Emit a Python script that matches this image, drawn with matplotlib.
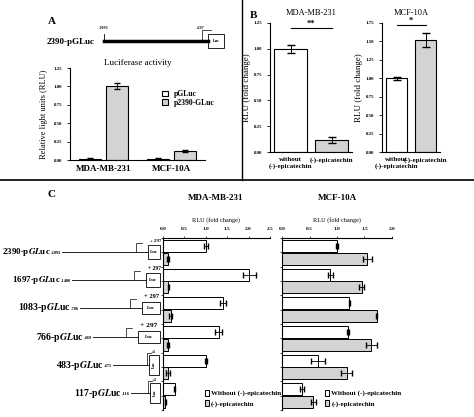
import numpy as np
import matplotlib
matplotlib.use("Agg")
import matplotlib.pyplot as plt
from matplotlib.patches import Rectangle

plt.rcParams["font.family"] = ["Liberation Serif", "DejaVu Serif"]
plt.rcParams["font.weight"] = "bold"
plt.rcParams["mathtext.fontset"] = "stix"

W, H = 474, 417

# panel A
a_cells = ["MDA-MB-231", "MCF-10A"]
a_pgluc = [0.02, 0.02]
a_pgluc_err = [0.005, 0.005]
a_p2390 = [1.0, 0.12]
a_p2390_err = [0.04, 0.01]

# panel B
b_labels = ["without\n(-)-epicatechin", "(-)-epicatechin"]
b_mda = [1.0, 0.12]
b_mda_err = [0.04, 0.03]
b_mcf = [1.0, 1.52]
b_mcf_err = [0.02, 0.1]

# panel C
c_constructs = ["2390", "1697", "1083", "766", "483", "117"]
c_start = ["-2093", "-1400", "-786", "-469", "-475", "-116"]
c_mda_without = [1.0, 2.02, 1.4, 1.3, 1.0, 0.27]
c_mda_without_err = [0.05, 0.15, 0.07, 0.08, 0.02, 0.02]
c_mda_with = [0.12, 0.12, 0.18, 0.12, 0.12, 0.05]
c_mda_with_err = [0.02, 0.01, 0.04, 0.02, 0.04, 0.01]
c_mcf_without = [1.0, 0.88, 1.22, 1.2, 0.65, 0.36]
c_mcf_without_err = [0.02, 0.05, 0.01, 0.01, 0.13, 0.04]
c_mcf_with = [1.55, 1.45, 1.72, 1.62, 1.18, 0.57]
c_mcf_with_err = [0.08, 0.05, 0.01, 0.1, 0.1, 0.05]

GREY = "#d3d3d3"
fig = plt.figure(figsize=(W / 100, H / 100), dpi=100)


def px_axes(x0, y0, x1, y1):
    return fig.add_axes([x0 / W, 1 - y1 / H, (x1 - x0) / W, (y1 - y0) / H])


def style(ax):
    for s in ["top", "right"]:
        ax.spines[s].set_visible(False)
    ax.tick_params(labelsize=3.5, length=2, width=0.6)


# overlay for text & diagrams (pixel coords)
ov = fig.add_axes([0, 0, 1, 1])
ov.set_xlim(0, W)
ov.set_ylim(H, 0)
ov.axis("off")
ov.plot([0, W], [180, 180], color="k", lw=1.2)
ov.plot([242, 242], [0, 180], color="k", lw=1)

# ---- A ----
ov.text(48, 24, "A", fontsize=8)
ov.text(47, 42, "2390-pGLuc", fontsize=6.5, va="center")
ov.plot([104, 208], [41, 41], color="k", lw=2.5)
ov.plot([104, 104], [34, 41], color="k", lw=0.6)
ov.add_patch(Rectangle((208, 34), 16, 14, fill=False, lw=0.6))
ov.text(216, 41, "Luc", fontsize=3, ha="center", va="center")
ov.plot([202, 202, 211], [41, 30, 30], color="k", lw=0.5)
ov.text(104, 29, "-2093", fontsize=3, ha="center")
ov.text(200, 29, "+297", fontsize=3, ha="center")

ax = px_axes(70, 68, 205, 160)
style(ax)
x = np.array([0, 1])
ax.bar(x - 0.2, a_pgluc, 0.32, yerr=a_pgluc_err, color="white", edgecolor="k", lw=0.8, capsize=2, error_kw=dict(lw=0.6))
ax.bar(x + 0.2, a_p2390, 0.32, yerr=a_p2390_err, color=GREY, edgecolor="k", lw=0.8, capsize=2, error_kw=dict(lw=0.6))
ax.set_ylim(0, 1.25)
ax.set_yticks([0, 0.25, 0.5, 0.75, 1.0, 1.25])
ax.set_yticklabels(["0.00", "0.25", "0.50", "0.75", "1.00", "1.25"])
ax.set_xticks(x)
ax.set_xticklabels(a_cells, fontsize=6.5)
ax.tick_params(axis="x", length=0)
ax.set_xlim(-0.5, 1.5)
ax.set_ylabel("Relative light units (RLU)", fontsize=6)
ax.set_title("Luciferase activity", fontsize=6.5, pad=2)
ax.legend(["pGLuc", "p2390-GLuc"], fontsize=5.5, frameon=False, loc="upper right",
          bbox_to_anchor=(1.1, 0.8), handlelength=0.8, handleheight=0.8, borderpad=0, labelspacing=0.1)

# ---- B ----
ov.text(250, 18, "B", fontsize=8)
for (x0, x1), vals, errs, top, ticks, title, star, bw in [
        ((270, 352), b_mda, b_mda_err, 1.25, [0, 0.25, 0.5, 0.75, 1.0, 1.25], "MDA-MB-231", "**", 0.8),
        ((382, 440), b_mcf, b_mcf_err, 1.75, [0, 0.25, 0.5, 0.75, 1.0, 1.25, 1.5, 1.75], "MCF-10A", "*", 0.75)]:
    ax = px_axes(x0, 23, x1, 152)
    style(ax)
    ax.bar([0, 1], vals, bw, yerr=errs, color=["white", GREY], edgecolor="k", lw=0.8,
           capsize=3, error_kw=dict(lw=0.7))
    ax.set_ylim(0, top)
    ax.set_xlim(-0.5, 1.5)
    ax.set_yticks(ticks)
    ax.set_yticklabels([f"{t:.2f}" for t in ticks])
    ax.set_xticks([0, 1])
    ax.set_xticklabels(b_labels, fontsize=5)
    ax.tick_params(axis="x", length=0)
    ax.set_ylabel("RLU (fold change)", fontsize=6.5, labelpad=2)
    ax.set_title(title, fontsize=6, pad=6)
    yb = top * 0.96 if star == "**" else top * 0.985
    ax.plot([0, 1], [yb, yb], color="k", lw=0.8, clip_on=False)
    ax.text(0.5, yb, star, ha="center", va="bottom", fontsize=6)

# ---- C ----
ov.text(48, 197, "C", fontsize=8)
ov.text(216, 200, "MDA-MB-231", fontsize=6.5, ha="center")
ov.text(337, 200, "MCF-10A", fontsize=6.5, ha="center")
y = np.arange(6)
for (x0, x1), wo, woe, wi, wie, xmax, xt in [
        ((163, 270), c_mda_without, c_mda_without_err, c_mda_with, c_mda_with_err, 2.5, [0, 0.5, 1, 1.5, 2, 2.5]),
        ((282, 392), c_mcf_without, c_mcf_without_err, c_mcf_with, c_mcf_with_err, 2.0, [0, 0.5, 1, 1.5, 2.0])]:
    ax = px_axes(x0, 238, x1, 410)
    ax.barh(y - 0.22, wo, 0.42, xerr=woe, color="white", edgecolor="k", lw=0.7, capsize=2, error_kw=dict(lw=0.6))
    ax.barh(y + 0.22, wi, 0.42, xerr=wie, color=GREY, edgecolor="k", lw=0.7, capsize=2, error_kw=dict(lw=0.6))
    ax.set_ylim(5.5, -0.5)
    ax.set_xlim(0, xmax)
    ax.xaxis.tick_top()
    ax.set_xticks(xt)
    ax.set_xticklabels([f"{t:.1f}" for t in xt])
    ax.set_yticks(np.arange(-0.5, 6, 0.5))
    ax.set_yticklabels([])
    for s in ["right", "bottom"]:
        ax.spines[s].set_visible(False)
    ax.tick_params(labelsize=3.8, length=1.5, width=0.5)
    ax.set_xlabel("RLU (fold change)", fontsize=4.5)
    ax.xaxis.set_label_position("top")
    ax.legend(["Without (-)-epicatechin", "(-)-epicatechin"], fontsize=5, frameon=False,
              loc="lower left", bbox_to_anchor=(0.36, 0.0), handlelength=0.6, handleheight=0.9,
              borderpad=0, labelspacing=0.5, handletextpad=0.3)

rows_y = [252, 280, 308, 337, 365, 393]
label_x = [2, 12, 18, 36, 56, 74]
box = [(148, 12, 14), (146, 14, 14), (142, 18, 12), (138, 22, 12), (149, 10, 20), (150, 10, 20)]
renderer = fig.canvas.get_renderer()
for i, yy in enumerate(rows_y):
    t = ov.text(label_x[i], yy, f"{c_constructs[i]}-p$\\it{{GL}}$uc", fontsize=6.5 if i < 2 else 7, va="center")
    ext = t.get_window_extent(renderer)
    xend = ext.x1 * W / fig.bbox.width
    s = ov.text(xend + 0.5, yy + 1, c_start[i], fontsize=3.2, va="center", ha="left")
    xs = s.get_window_extent(renderer).x1 * W / fig.bbox.width
    bx, bw, bh = box[i]
    ov.plot([xs + 0.5, bx], [yy, yy], color="k", lw=0.6)
    ov.add_patch(Rectangle((bx, yy - bh / 2), bw, bh, fill=False, lw=0.6))
    ov.text(bx + bw / 2, yy, "Luc", fontsize=3.5 if i < 4 else 3, ha="center", va="center",
            rotation=0 if i < 4 else 90)
    if i < 4:
        ov.plot([bx - 12, bx - 12, bx - 6], [yy, yy - 9, yy - 9], color="k", lw=0.5)
        ov.text(bx + 2, yy - 10, "+ 297", fontsize=3.5 + i * 0.6)
    else:
        ov.plot([bx - 2, bx - 2, bx + 2], [yy, yy - 12, yy - 12], color="k", lw=0.5)
        ov.text(bx + 2, yy - 12, "+1", fontsize=3.5)

fig.savefig("out.png", dpi=100)
